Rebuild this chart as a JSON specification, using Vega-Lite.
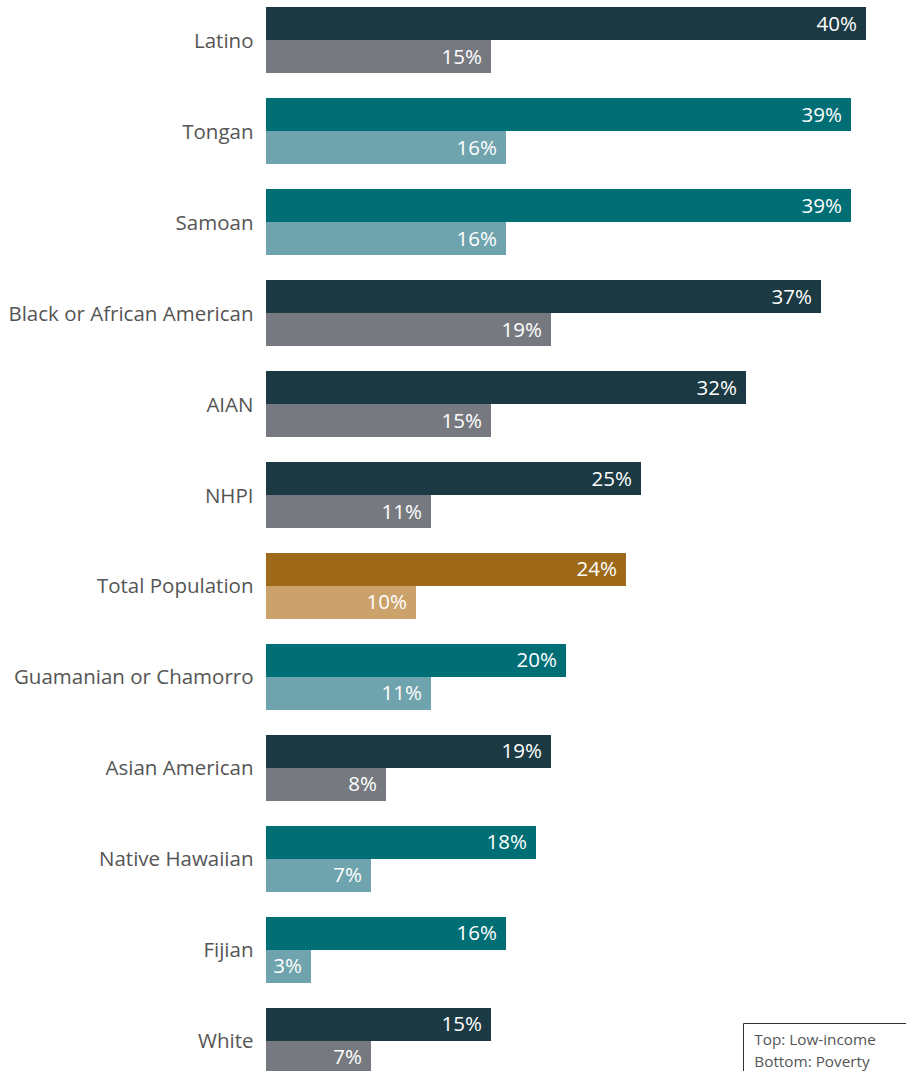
{
  "$schema": "https://vega.github.io/schema/vega-lite/v6.json",
  "width": 640,
  "height": 1071,
  "autosize": {"type": "none"},
  "padding": {"left": 266, "top": 0, "right": 0, "bottom": 0},
  "background": "white",
  "config": {"view": {"stroke": null}, "font": "Open Sans"},
  "data": {
    "values": [
      {"category": "Latino", "type": "Aggregate", "measure": "Low-income", "value": 40},
      {"category": "Latino", "type": "Aggregate", "measure": "Poverty", "value": 15},
      {"category": "Tongan", "type": "Pacific", "measure": "Low-income", "value": 39},
      {"category": "Tongan", "type": "Pacific", "measure": "Poverty", "value": 16},
      {"category": "Samoan", "type": "Pacific", "measure": "Low-income", "value": 39},
      {"category": "Samoan", "type": "Pacific", "measure": "Poverty", "value": 16},
      {"category": "Black or African American", "type": "Aggregate", "measure": "Low-income", "value": 37},
      {"category": "Black or African American", "type": "Aggregate", "measure": "Poverty", "value": 19},
      {"category": "AIAN", "type": "Aggregate", "measure": "Low-income", "value": 32},
      {"category": "AIAN", "type": "Aggregate", "measure": "Poverty", "value": 15},
      {"category": "NHPI", "type": "Aggregate", "measure": "Low-income", "value": 25},
      {"category": "NHPI", "type": "Aggregate", "measure": "Poverty", "value": 11},
      {"category": "Total Population", "type": "Total", "measure": "Low-income", "value": 24},
      {"category": "Total Population", "type": "Total", "measure": "Poverty", "value": 10},
      {"category": "Guamanian or Chamorro", "type": "Pacific", "measure": "Low-income", "value": 20},
      {"category": "Guamanian or Chamorro", "type": "Pacific", "measure": "Poverty", "value": 11},
      {"category": "Asian American", "type": "Aggregate", "measure": "Low-income", "value": 19},
      {"category": "Asian American", "type": "Aggregate", "measure": "Poverty", "value": 8},
      {"category": "Native Hawaiian", "type": "Pacific", "measure": "Low-income", "value": 18},
      {"category": "Native Hawaiian", "type": "Pacific", "measure": "Poverty", "value": 7},
      {"category": "Fijian", "type": "Pacific", "measure": "Low-income", "value": 16},
      {"category": "Fijian", "type": "Pacific", "measure": "Poverty", "value": 3},
      {"category": "White", "type": "Aggregate", "measure": "Low-income", "value": 15},
      {"category": "White", "type": "Aggregate", "measure": "Poverty", "value": 7}
    ]
  },
  "transform": [
    {"calculate": "datum.type + '|' + datum.measure", "as": "key"},
    {"calculate": "datum.value + '%'", "as": "label"}
  ],
  "encoding": {
    "y": {
      "field": "category",
      "type": "nominal",
      "sort": null,
      "scale": {"range": [0, 1081], "paddingInner": 0.2747, "paddingOuter": 0.077},
      "axis": {"title": null, "ticks": false, "domain": false, "labelPadding": 13, "labelOffset": 1.5, "labelFontSize": 20.5, "labelColor": "#555555", "labelFont": "Open Sans", "labelLimit": 400}
    },
    "yOffset": {"field": "measure", "type": "nominal", "sort": ["Low-income", "Poverty"], "scale": {"paddingInner": 0, "paddingOuter": 0}},
    "x": {"field": "value", "type": "quantitative", "scale": {"domain": [0, 42.667], "nice": false}, "axis": null}
  },
  "layer": [
    {
      "mark": {"type": "bar"},
      "encoding": {
        "color": {
          "field": "key",
          "type": "nominal",
          "scale": {
            "domain": ["Aggregate|Low-income", "Aggregate|Poverty", "Pacific|Low-income", "Pacific|Poverty", "Total|Low-income", "Total|Poverty"],
            "range": ["#1b3a43", "#767a80", "#006e75", "#6fa3ad", "#9e6919", "#cca26c"]
          },
          "legend": null
        }
      }
    },
    {
      "mark": {"type": "text", "align": "right", "baseline": "middle", "dx": -9, "dy": 1, "color": "white", "fontSize": 20.5, "font": "Open Sans"},
      "encoding": {"text": {"field": "label"}}
    },
    {
      "mark": {"type": "point", "opacity": 0, "size": 0},
      "encoding": {
        "shape": {
          "field": "measure",
          "type": "nominal",
          "sort": ["Low-income", "Poverty"],
          "legend": {
            "orient": "none",
            "legendX": 477,
            "legendY": 1023,
            "title": " ",
            "titleOrient": "right",
            "titlePadding": 90,
            "strokeColor": "#333333",
            "fillColor": "white",
            "padding": 9,
            "labelFontSize": 15.3,
            "labelFont": "Open Sans",
            "labelColor": "#555555",
            "labelOffset": -13,
            "symbolSize": 0,
            "symbolOpacity": 0,
            "symbolStrokeWidth": 0,
            "rowPadding": 6,
            "labelExpr": "datum.label == 'Low-income' ? 'Top: Low-income' : 'Bottom: Poverty'"
          }
        }
      }
    }
  ]
}
